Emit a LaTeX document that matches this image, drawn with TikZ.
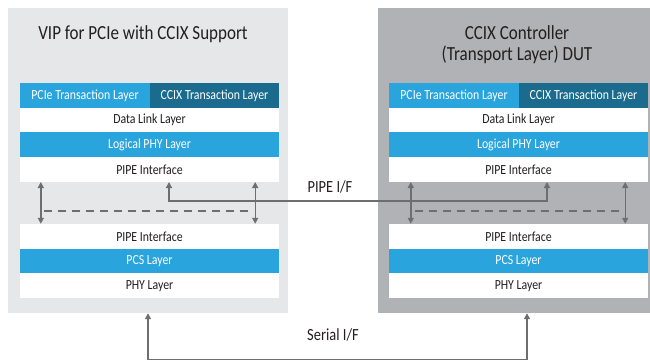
\documentclass[tikz,border=0pt]{standalone}
\usepackage{fontspec}
\setmainfont{Carlito}[FakeStretch=0.85]
\usetikzlibrary{arrows.meta}
\definecolor{lblue}{HTML}{29A4DD}
\definecolor{dteal}{HTML}{1A6B8E}
\definecolor{lgray}{HTML}{E6E7E8}
\definecolor{dgray}{HTML}{B1B2B5}
\definecolor{agray}{HTML}{6D6E70}
\definecolor{txt}{HTML}{231F20}
\begin{document}
\begin{tikzpicture}[x=1pt,y=-1pt,
  panel/.style={rectangle, inner sep=0pt, draw=none},
  layer/.style={rectangle, inner sep=0pt, minimum width=259pt, minimum height=24.7pt,
    font=\fontsize{13.9}{15}\selectfont},
  wlayer/.style={layer, fill=white, text=txt},
  blayer/.style={layer, fill=lblue, text=white},
  tlayer/.style={layer, fill=dteal, text=white},
  half/.style={minimum width=129.5pt},
  title/.style={text=txt, align=center, font=\fontsize{20}{21}\selectfont},
  lbl/.style={text=txt, font=\fontsize{17}{19}\selectfont},
  conn/.style={draw=agray, line width=1.4pt},
  dtip/.style={{Triangle[width=6pt,length=6pt]}-{Triangle[width=6pt,length=6pt]}},
  dash line/.style={draw=agray, line width=1.4pt, dash pattern=on 8pt off 6pt}]
\useasboundingbox (0,0) rectangle (650,362);

% panels
\node[panel, fill=lgray, minimum width=280pt, minimum height=305pt] (vipbox) at (148,160.5) {};
\node[panel, fill=dgray, minimum width=272pt, minimum height=305pt] (dutbox) at (514,160.5) {};

% titles
\node[title] (viptitle) at (143,34) {VIP for PCIe with CCIX Support};
\node[title] (duttitle) at (517,44.5) {CCIX Controller\\(Transport Layer) DUT};

% left upper stack
\node[blayer, half] (lpcie) at (85,95.35) {PCIe Transaction Layer};
\node[tlayer, half] (lccix) at (214.5,95.35) {CCIX Transaction Layer};
\node[wlayer] (ldll) at (149.5,120.05) {Data Link Layer};
\node[blayer] (llog) at (149.5,144.75) {Logical PHY Layer};
\node[wlayer] (lpipe1) at (149.5,169.45) {PIPE Interface};
% left lower stack
\node[wlayer] (lpipe2) at (149.5,236.35) {PIPE Interface};
\node[blayer] (lpcs) at (149.5,261.05) {PCS Layer};
\node[wlayer] (lphy) at (149.5,285.75) {PHY Layer};

% right upper stack
\node[blayer, half] (rpcie) at (454,95.35) {PCIe Transaction Layer};
\node[tlayer, half] (rccix) at (583.5,95.35) {CCIX Transaction Layer};
\node[wlayer] (rdll) at (518.5,120.05) {Data Link Layer};
\node[blayer] (rlog) at (518.5,144.75) {Logical PHY Layer};
\node[wlayer] (rpipe1) at (518.5,169.45) {PIPE Interface};
% right lower stack
\node[wlayer] (rpipe2) at (518.5,236.35) {PIPE Interface};
\node[blayer] (rpcs) at (518.5,261.05) {PCS Layer};
\node[wlayer] (rphy) at (518.5,285.75) {PHY Layer};

% dashed separators
\draw[dash line] ([shift={(24,29)}]lpipe1.south west) -- ([shift={(-31,29)}]lpipe1.south east);
\draw[dash line] ([shift={(26,29)}]rpipe1.south west) -- ([shift={(-28,29)}]rpipe1.south east);

% vertical double arrows
\draw[conn, dtip] ([xshift=21pt]lpipe1.south west) -- ([xshift=21pt]lpipe2.north west);
\draw[conn, dtip] ([xshift=-24pt]lpipe1.south east) -- ([xshift=-24pt]lpipe2.north east);
\draw[conn, dtip] ([xshift=22pt]rpipe1.south west) -- ([xshift=22pt]rpipe2.north west);
\draw[conn, dtip] ([xshift=-23pt]rpipe1.south east) -- ([xshift=-23pt]rpipe2.north east);

% PIPE I/F
\draw[conn, dtip]
  ([xshift=19.5pt]lpipe1.south) -- ++(0,18.8) -| ([xshift=28.5pt]rpipe1.south);
\node[lbl] (pipeif) at (330,187) {PIPE I/F};

% Serial I/F
\draw[conn, dtip]
  (vipbox.south) -- ++(0,46.5) -| ([xshift=13pt]dutbox.south);
\node[lbl] (serialif) at (333,335) {Serial I/F};
\end{tikzpicture}
\end{document}
